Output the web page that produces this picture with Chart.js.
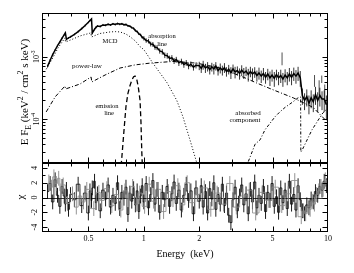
<!DOCTYPE html>
<html><head><meta charset="utf-8">
<script src="https://cdn.jsdelivr.net/npm/chart.js"></script>
<style>html,body{margin:0;padding:0;background:#fff;}#wrap{position:relative;width:354px;height:273px;background:#fff;}canvas{position:absolute;left:0;top:0;}</style>
</head><body><div id="wrap"><canvas id="top" width="354" height="273"></canvas><canvas id="bot" width="354" height="273"></canvas></div>
<script>
// ---------- data (keV, keV^2/cm^2/s/keV) ----------
const specE = [0.30,0.31,0.32,0.33,0.34,0.35,0.36,0.37,0.375,
 0.38,0.39,0.40,0.42,0.44,0.46,0.48,0.50,0.51,0.52,0.525,
 0.54,0.55,0.56,0.58,0.60,0.62,0.64,0.66,0.68,0.70,0.72,0.74,0.76,0.78,0.80,0.82,0.84,0.86,0.88,0.90,0.92,0.94,0.96,0.98,
 1.00,1.03,1.06,1.09,1.12,1.15,1.18,1.22,1.26,1.30,1.34,1.38,1.42,1.46,1.50,1.55,1.60,1.65,1.70,1.75,1.80,1.86,1.92,
 2.00,2.05,2.10,2.16,2.22,2.28,2.34,2.40,2.46,2.53,2.60,2.67,2.74,2.81,2.89,2.97,3.05,3.13,3.22,3.31,
 3.40,3.49,3.59,3.69,3.79,3.89,4.00,4.11,4.22,4.34,4.46,4.58,4.71,4.84,4.97,5.11,5.25,5.39,5.54,5.69,
 5.85,6.01,6.17,6.34,6.52,6.70,6.88,7.07,7.26,7.46,7.67,7.88,8.10,8.32,8.55,8.79,9.03,9.28,9.54,9.80];
const specF = [7.0e-4,8.8e-4,1.08e-3,1.28e-3,1.50e-3,1.72e-3,1.98e-3,2.25e-3,2.40e-3,
 1.90e-3,2.00e-3,2.08e-3,2.28e-3,2.52e-3,2.82e-3,3.15e-3,3.55e-3,3.78e-3,4.00e-3,2.40e-3,
 2.75e-3,2.95e-3,3.10e-3,3.05e-3,3.22e-3,3.18e-3,3.30e-3,3.22e-3,3.35e-3,3.28e-3,3.38e-3,3.30e-3,3.36e-3,3.24e-3,3.28e-3,3.12e-3,3.08e-3,2.92e-3,2.84e-3,2.62e-3,2.52e-3,2.32e-3,2.24e-3,2.04e-3,
 1.98e-3,1.82e-3,1.78e-3,1.60e-3,1.58e-3,1.42e-3,1.40e-3,1.24e-3,1.20e-3,1.06e-3,1.04e-3,9.4e-4,9.6e-4,8.6e-4,9.0e-4,8.0e-4,8.4e-4,7.5e-4,8.0e-4,7.1e-4,7.6e-4,6.8e-4,7.3e-4,
 7.2e-4,6.5e-4,7.4e-4,6.6e-4,7.0e-4,6.2e-4,6.9e-4,6.4e-4,7.1e-4,6.0e-4,6.6e-4,6.1e-4,6.7e-4,5.8e-4,6.3e-4,5.6e-4,6.4e-4,5.7e-4,6.0e-4,5.4e-4,
 6.1e-4,5.5e-4,5.9e-4,5.2e-4,5.8e-4,5.3e-4,5.7e-4,5.0e-4,5.5e-4,4.9e-4,5.4e-4,4.7e-4,5.3e-4,4.6e-4,5.1e-4,4.5e-4,5.2e-4,4.6e-4,5.0e-4,4.4e-4,
 5.1e-4,4.6e-4,5.3e-4,4.7e-4,5.4e-4,4.9e-4,5.5e-4,4.6e-4,2.4e-4,2.0e-4,2.3e-4,1.8e-4,2.2e-4,1.9e-4,2.5e-4,2.0e-4,2.4e-4,2.1e-4,2.1e-4,1.7e-4];
const specErr = [3e-5,4e-5,4e-5,5e-5,5e-5,6e-5,7e-5,8e-5,8e-5,
 7e-5,7e-5,8e-5,8e-5,9e-5,1.0e-4,1.1e-4,1.2e-4,1.2e-4,1.3e-4,1.0e-4,
 1.0e-4,1.1e-4,1.1e-4,1.1e-4,1.2e-4,1.2e-4,1.2e-4,1.2e-4,1.2e-4,1.2e-4,1.2e-4,1.2e-4,1.2e-4,1.2e-4,1.2e-4,1.1e-4,1.1e-4,1.1e-4,1.1e-4,1.0e-4,1.0e-4,1.0e-4,1.0e-4,1.0e-4,
 1.6e-4,1.5e-4,1.5e-4,1.4e-4,1.4e-4,1.3e-4,1.3e-4,1.2e-4,1.2e-4,1.1e-4,1.1e-4,1.0e-4,1.0e-4,9.5e-5,9.5e-5,9e-5,9e-5,8.5e-5,8.5e-5,8e-5,8e-5,8e-5,8e-5,
 1.1e-4,1.0e-4,1.2e-4,1.1e-4,1.2e-4,1.0e-4,1.1e-4,1.2e-4,1.1e-4,1.0e-4,1.2e-4,1.1e-4,1.2e-4,1.0e-4,1.1e-4,1.2e-4,1.1e-4,1.2e-4,1.0e-4,1.1e-4,
 1.2e-4,1.1e-4,1.0e-4,1.2e-4,1.1e-4,1.2e-4,1.1e-4,1.0e-4,1.2e-4,1.1e-4,1.2e-4,1.0e-4,1.1e-4,1.2e-4,1.1e-4,1.2e-4,1.0e-4,1.1e-4,1.2e-4,1.1e-4,
 1.2e-4,1.1e-4,1.3e-4,1.2e-4,1.3e-4,1.2e-4,1.4e-4,1.3e-4,7e-5,6e-5,7e-5,6e-5,7e-5,6e-5,8e-5,7e-5,8e-5,7e-5,8e-5,7e-5];
// isolated points of the second data set in the upper panel
const extraE = [5.63,8.45,8.95,9.25,9.60];
const extraF = [9.5e-4,4.2e-4,3.3e-4,4.4e-4,2.8e-4];
const extraErr = [2.2e-4,0.9e-4,0.9e-4,0.6e-4,0.8e-4];
// residuals (chi) at specE
const resid = [0.8,1.9,-0.6,2.4,0.3,-1.2,1.5,0.2,-0.9,
 1.1,-1.6,0.4,-0.3,1.8,-1.1,0.6,-2.1,0.9,-0.4,1.3,
 2.2,-0.7,0.5,-1.8,1.0,-0.2,1.7,-1.3,0.3,-0.8,2.0,-1.5,0.7,-0.1,1.4,-2.3,0.6,-0.5,1.2,-1.0,0.9,-1.9,0.2,1.6,
 -0.6,1.9,-1.4,0.4,2.3,-0.9,1.1,-2.0,0.7,-0.3,1.5,-1.2,0.5,2.1,-0.8,1.0,-1.7,0.3,1.8,-0.4,0.9,-2.2,1.3,
 -0.5,1.6,-1.3,0.8,-2.1,1.2,-0.2,2.0,-1.6,0.4,-0.9,1.8,-1.1,0.6,-2.4,-3.4,-0.3,1.4,-1.8,0.2,
 1.7,-1.0,0.5,-2.2,1.1,-0.6,2.1,-1.4,0.3,-0.8,1.5,-1.9,0.7,-0.4,1.9,-1.2,0.1,-2.0,1.3,-0.7,
 1.0,-1.5,2.2,-0.9,0.4,-1.7,1.6,-0.3,-1.8,-2.2,-1.0,-1.4,-0.2,-0.6,0.8,0.3,1.5,1.0,2.2,1.6];
// second instrument residuals (grey)
const grayE = [0.305,0.315,0.325,0.335,0.345,0.355,0.365,0.385,0.41,0.43,0.45,0.47,0.49,0.535,0.57,0.59,
 0.63,0.67,0.71,0.75,0.79,0.83,0.87,0.91,0.95,1.01,1.07,1.13,1.20,1.28,1.36,1.44,1.53,1.62,1.72,1.83,1.95,
 2.13,2.31,2.50,2.71,2.93,3.18,3.45,3.74,4.05,4.40,4.77,5.17,5.61,6.08,6.60,
 7.16,7.36,7.56,7.78,8.00,8.21,8.44,8.67,8.91,9.16,9.41,9.67,9.93];
const grayResid = [2.1,1.4,2.8,1.9,2.6,0.9,1.7,-0.8,0.5,-1.3,0.2,-0.6,1.1,-1.5,0.7,-0.4,
 1.2,-1.1,0.4,-1.7,0.9,-0.2,1.5,-0.9,0.6,-1.2,1.8,-0.5,1.1,-1.9,0.8,-0.3,1.6,-1.0,2.0,-0.7,0.4,
 1.3,-1.6,0.6,-0.9,1.9,-1.3,0.2,1.0,-2.1,0.7,-0.4,1.4,-1.1,0.5,2.3,
 -2.6,-1.8,-2.2,-1.2,-1.6,-0.5,-0.9,0.4,0.9,1.5,1.1,2.4,2.0];
// model components
const mcdE = [0.295,0.32,0.342,0.373,0.376,0.40,0.451,0.515,0.52,0.578,0.656,0.70,0.743,0.80,0.842,0.90,0.954,1.0,1.12,1.34,1.51,1.63,1.78,1.94,2.05];
const mcdF = [6.3e-4,9.5e-4,1.38e-3,2.0e-3,1.72e-3,1.85e-3,2.15e-3,2.4e-3,2.07e-3,2.35e-3,2.49e-3,2.52e-3,2.49e-3,2.3e-3,2.09e-3,1.78e-3,1.45e-3,1.3e-3,7.9e-4,3.8e-4,2.0e-4,1.1e-4,4.7e-5,2.0e-5,1.2e-5];
const plE = [0.295,0.33,0.373,0.376,0.451,0.517,0.522,0.616,0.743,0.896,1.08,1.44,1.94,2.59,3.54,4.10,4.84,6.48,7.05,8.3,9.6,10.0];
const plF = [1.31e-4,2.28e-4,3.4e-4,3.05e-4,3.67e-4,4.75e-4,3.95e-4,5.1e-4,6.6e-4,7.4e-4,7.9e-4,8.4e-4,7.9e-4,6.6e-4,4.6e-4,3.8e-4,3.1e-4,2.2e-4,1.95e-4,1.55e-4,1.0e-4,9.5e-5];
const lineE = [0.74,0.76,0.78,0.80,0.82,0.84,0.86,0.88,0.896,0.915,0.933,0.954,0.965,0.975,0.99];
const lineF = [1.0e-5,2.5e-5,6.5e-5,1.6e-4,2.6e-4,3.4e-4,4.2e-4,4.8e-4,4.9e-4,4.4e-4,3.3e-4,2.0e-4,9e-5,3e-5,1.0e-5];
const absE = [3.50,3.69,4.02,4.28,4.55,4.84,5.16,5.49,5.85,6.47,6.87,7.10,7.12,7.23,8.19,9.37,10.0];
const absF = [1.2e-5,2.1e-5,4.0e-5,4.7e-5,6.8e-5,8.6e-5,1.1e-4,1.32e-4,1.55e-4,1.91e-4,2.2e-4,2.28e-4,3.0e-5,3.2e-5,6.8e-5,1.26e-4,1.52e-4];
// ticks
const xMajor = [0.5,1,2,5];
const xMajorLabels = ['0.5','1','2','5'];
const xEndLabel = '10';
const xMinor = [0.3,0.4,0.6,0.7,0.8,0.9,3,4,6,7,8,9];
const yMajorTop = [1e-4,1e-3];
const yMajorTopExp = ['-4','-3'];
const yMinorTop = [3e-5,4e-5,5e-5,6e-5,7e-5,8e-5,9e-5,2e-4,3e-4,4e-4,5e-4,6e-4,7e-4,8e-4,9e-4,2e-3,3e-3,4e-3];
const chiMajor = [-4,-2,0,2,4];
const chiMinor = [-3,-1,1,3];

// ---------- helpers ----------
const FONT = "'Liberation Serif','Times New Roman',serif";
const pts = (xs, ys) => xs.map((e,i)=>({x:e,y:ys[i]}));
const errPts = (xs, ys, es) => xs.flatMap((e,i)=>[{x:e,y:ys[i]-es[i]},{x:e,y:ys[i]+es[i]},{x:e,y:null}]);
const chiErrPts = (xs, ys) => xs.flatMap((e,i)=>[{x:e,y:ys[i]-1},{x:e,y:ys[i]+1},{x:e,y:null}]);

function frame(chart, xt, yt){
  const {ctx, chartArea:a} = chart; const x=chart.scales.x, y=chart.scales.y;
  ctx.save(); ctx.strokeStyle='#000'; ctx.lineWidth=1;
  const L=Math.round(a.left)+0.5, R=Math.round(a.right)-0.5, T=Math.round(a.top)+0.5, B=Math.round(a.bottom)-0.5;
  ctx.strokeRect(L,T,R-L,B-T);
  ctx.beginPath();
  for(const [v,len] of xt){ const p=Math.round(x.getPixelForValue(v))+0.5; ctx.moveTo(p,B); ctx.lineTo(p,B-len); ctx.moveTo(p,T); ctx.lineTo(p,T+len); }
  for(const [v,len] of yt){ const p=Math.round(y.getPixelForValue(v))+0.5; ctx.moveTo(L,p); ctx.lineTo(L+len,p); ctx.moveTo(R,p); ctx.lineTo(R-len,p); }
  ctx.stroke(); ctx.restore();
}
function vText(ctx, parts, cy, baseX, size){
  ctx.save(); ctx.translate(baseX, cy); ctx.rotate(-Math.PI/2);
  let w=0; const m=[];
  for(const p of parts){ const fs=p.k?size*0.7:size; ctx.font=fs+'px '+FONT; const pw=ctx.measureText(p.t).width; m.push([p,fs,pw]); w+=pw; }
  let xx=-w/2; ctx.fillStyle='#000'; ctx.textAlign='left'; ctx.textBaseline='alphabetic';
  for(const [p,fs,pw] of m){ ctx.font=fs+'px '+FONT; const dy=p.k==='sup'?-size*0.45:(p.k==='sub'?size*0.3:0); ctx.fillText(p.t,xx,dy); xx+=pw; }
  ctx.restore();
}
const xTickList = [...xMajor.map(v=>[v,5]), ...xMinor.map(v=>[v,3])];

const topDeco = {
  id:'topDeco',
  afterDatasetsDraw(chart){
    const {ctx} = chart; const y=chart.scales.y;
    frame(chart, xTickList, [...yMajorTop.map(v=>[v,5]), ...yMinorTop.map(v=>[v,3])]);
    yMajorTop.forEach((v,i)=>vText(ctx,[{t:'10'},{t:yMajorTopExp[i],k:'sup'}], y.getPixelForValue(v), 38.5, 8));
    vText(ctx,[{t:'E F'},{t:'E',k:'sub'},{t:' (keV'},{t:'2',k:'sup'},{t:' / cm'},{t:'2',k:'sup'},{t:' s keV)'}], 92, 28, 11);
    ctx.save(); ctx.fillStyle='#000'; ctx.textAlign='center'; ctx.font='6.5px '+FONT;
    ctx.fillText('MCD',110,43);
    ctx.fillText('absorption',162,38); ctx.fillText('line',162,46);
    ctx.font='7px '+FONT;
    ctx.fillText('power-law',87,68);
    ctx.font='6.5px '+FONT;
    ctx.fillText('emission',107,108); ctx.fillText('line',109,115);
    ctx.font='7px '+FONT;
    ctx.fillText('absorbed',248,115); ctx.fillText('component',245,122);
    ctx.restore();
  }
};
const botDeco = {
  id:'botDeco',
  beforeDatasetsDraw(chart){
    const {ctx, chartArea:a} = chart; const p=Math.round(chart.scales.y.getPixelForValue(0))+0.5;
    ctx.save(); ctx.strokeStyle='#000'; ctx.lineWidth=0.8; ctx.beginPath(); ctx.moveTo(a.left,p); ctx.lineTo(a.right,p); ctx.stroke(); ctx.restore();
  },
  afterDatasetsDraw(chart){
    const {ctx} = chart; const x=chart.scales.x, y=chart.scales.y;
    frame(chart, xTickList, [...chiMajor.map(v=>[v,5]), ...chiMinor.map(v=>[v,3])]);
    chiMajor.forEach(v=>vText(ctx,[{t:String(v)}], y.getPixelForValue(v), 37, 8));
    vText(ctx,[{t:'χ'}], 197, 24, 11);
    ctx.save(); ctx.fillStyle='#000'; ctx.textAlign='center'; ctx.font='8px '+FONT;
    xMajor.forEach((v,i)=>ctx.fillText(xMajorLabels[i], x.getPixelForValue(v), 241));
    ctx.fillText(xEndLabel, x.getPixelForValue(10), 241);
    ctx.font='10px '+FONT; ctx.fillText('Energy  (keV)', 185, 257);
    ctx.restore();
  }
};
const common = {responsive:false, animation:false, devicePixelRatio:1,
  plugins:{legend:{display:false}, tooltip:{enabled:false}},
  elements:{point:{radius:0}, line:{tension:0}}};

new Chart(document.getElementById('top'), {
  type:'line',
  data:{datasets:[
    {data:errPts(specE,specF,specErr), borderColor:'#000', borderWidth:0.8, spanGaps:false},
    {data:errPts(extraE,extraF,extraErr), borderColor:'#222', borderWidth:0.8, spanGaps:false},
    {data:pts(specE,specF), borderColor:'#000', borderWidth:1.5},
    {data:pts(mcdE,mcdF), borderColor:'#000', borderWidth:1, borderDash:[1,2]},
    {data:pts(plE,plF), borderColor:'#000', borderWidth:1, borderDash:[4,2,1,2]},
    {data:pts(lineE,lineF), borderColor:'#000', borderWidth:1.3, borderDash:[5,3]},
    {data:pts(absE,absF), borderColor:'#000', borderWidth:1, borderDash:[3,2,1,2]}
  ]},
  options:{...common, layout:{padding:{left:42,right:26,top:13,bottom:110}},
    scales:{x:{type:'logarithmic',min:0.28,max:10,display:false}, y:{type:'logarithmic',min:2e-5,max:5e-3,display:false}}},
  plugins:[topDeco]
});
new Chart(document.getElementById('bot'), {
  type:'line',
  data:{datasets:[
    {data:chiErrPts(grayE,grayResid), borderColor:'#888', borderWidth:0.9, spanGaps:false},
    {data:pts(grayE,grayResid), borderColor:'#888', borderWidth:0.8, stepped:'middle'},
    {data:chiErrPts(specE,resid), borderColor:'#000', borderWidth:0.9, spanGaps:false},
    {data:pts(specE,resid), borderColor:'#000', borderWidth:0.8, stepped:'middle'}
  ]},
  options:{...common, layout:{padding:{left:42,right:26,top:163,bottom:41}},
    scales:{x:{type:'logarithmic',min:0.28,max:10,display:false}, y:{type:'linear',min:-4.67,max:4.67,display:false}}},
  plugins:[botDeco]
});
</script></body></html>
